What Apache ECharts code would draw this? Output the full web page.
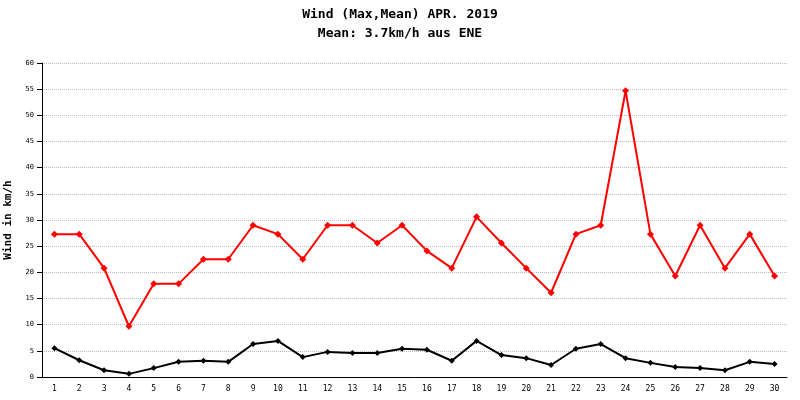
<!DOCTYPE html><html><head><meta charset="utf-8"><script src="https://cdn.jsdelivr.net/npm/echarts@6/dist/echarts.min.js"></script></head><body style="margin:0;background:#fff"><div id="c" style="width:800px;height:400px"></div><script>
const days=[];for(let i=1;i<=30;i++)days.push(String(i));
const maxWind=[27.3,27.3,20.8,9.7,17.8,17.8,22.5,22.5,29.0,27.3,22.5,29.0,29.0,25.6,29.0,24.1,20.8,30.6,25.6,20.8,16.1,27.3,29.0,54.7,27.3,19.3,29.0,20.8,27.3,19.3];
const meanWind=[5.5,3.2,1.3,0.6,1.7,2.9,3.1,2.9,6.3,6.9,3.8,4.8,4.6,4.6,5.4,5.2,3.1,6.9,4.2,3.6,2.3,5.4,6.3,3.6,2.7,1.9,1.7,1.3,2.9,2.5];
const c=echarts.init(document.getElementById('c'));
c.setOption({animation:false,backgroundColor:'#fff',
title:{text:'Wind (Max,Mean) APR. 2019\nMean: 3.7km/h aus ENE',left:'center',top:0,textStyle:{fontFamily:'DejaVu Sans Mono',fontSize:13,fontWeight:'bold',lineHeight:19,color:'#000'}},
grid:{left:42,right:13,top:63,bottom:23,outerBoundsMode:'none'},
xAxis:{type:'category',data:days,boundaryGap:true,axisLine:{lineStyle:{color:'#000'}},axisTick:{lineStyle:{color:'#000'}},axisLabel:{fontSize:8,color:'#000',fontFamily:'DejaVu Sans Mono'}},
yAxis:{type:'value',min:0,max:60,interval:5,name:'Wind in km/h',nameLocation:'middle',nameGap:28,nameTextStyle:{fontFamily:'DejaVu Sans Mono',fontWeight:'bold',fontSize:11,color:'#000'},axisLine:{show:true,lineStyle:{color:'#000'}},axisTick:{show:true,lineStyle:{color:'#000'}},axisLabel:{fontSize:7,color:'#000',fontFamily:'DejaVu Sans Mono'},splitLine:{lineStyle:{type:'dotted',color:'#bbb'}}},
series:[
{type:'line',data:maxWind,color:'#f00',symbol:'diamond',symbolSize:7,lineStyle:{width:2,color:'#f00'},itemStyle:{color:'#f00'}},
{type:'line',data:meanWind,color:'#000',symbol:'diamond',symbolSize:6,lineStyle:{width:2,color:'#000'},itemStyle:{color:'#000'}}]});
</script></body></html>
